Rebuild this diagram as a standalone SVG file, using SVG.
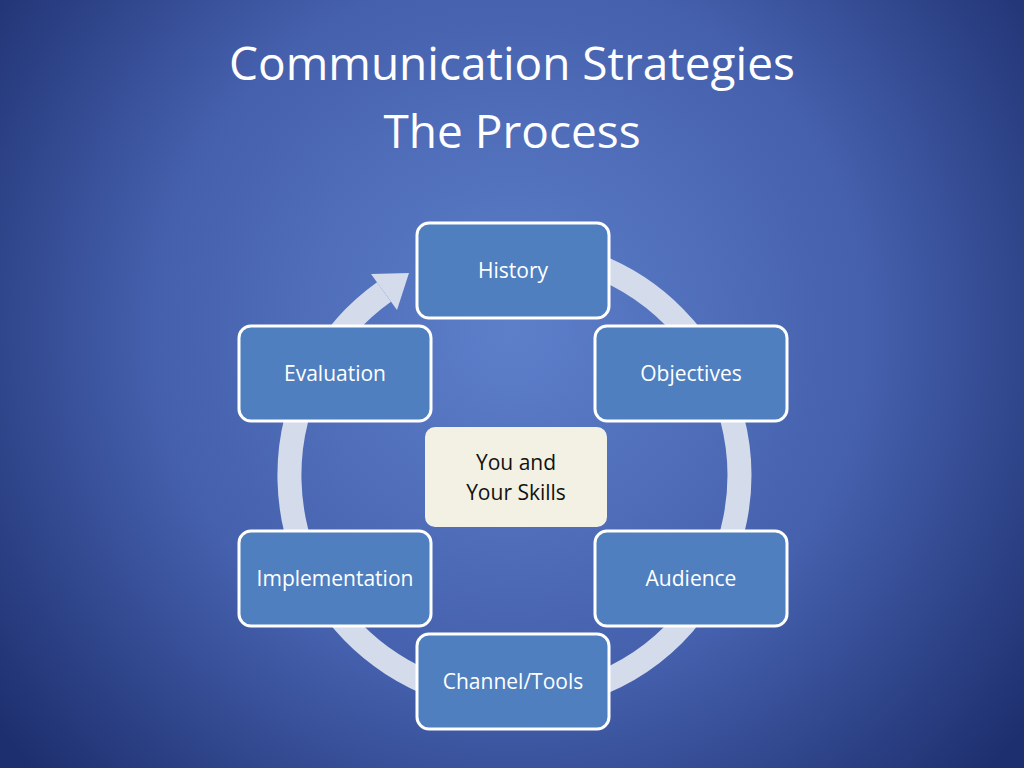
<svg xmlns="http://www.w3.org/2000/svg" width="1024" height="768" viewBox="0 0 1024 768">
<defs>
<radialGradient id="bg" cx="512" cy="330" r="650" gradientUnits="userSpaceOnUse">
<stop offset="0" stop-color="#5d7fca"/><stop offset="0.55" stop-color="#4560ad"/><stop offset="1" stop-color="#1d2f6e"/>
</radialGradient>
<style>
.box{fill:#4f7fbf;stroke:#fff;stroke-width:3}
.t{font-family:"Open Sans","Liberation Sans",sans-serif;font-size:21px;fill:#fff;text-anchor:middle}
.h{font-family:"Open Sans","Liberation Sans",sans-serif;font-size:46px;fill:#fff;text-anchor:middle}
</style>
</defs>
<rect width="1024" height="768" fill="url(#bg)"/>
<text class="h" x="512" y="80">Communication Strategies</text>
<text class="h" x="512" y="148">The Process</text>
<g id="connectors">
<path d="M384 292 A225 225 0 1 0 474 254" fill="none" stroke="#d4dbeb" stroke-width="24"/>
<polygon points="371,274 397,310 409,273" fill="#d4dbeb"/>
</g>
<g id="history"><rect class="box" x="417" y="223" width="192" height="95" rx="12"/><text class="t" x="513" y="278">History</text></g>
<g id="objectives"><rect class="box" x="595" y="326" width="192" height="95" rx="12"/><text class="t" x="691" y="381">Objectives</text></g>
<g id="evaluation"><rect class="box" x="239" y="326" width="192" height="95" rx="12"/><text class="t" x="335" y="381">Evaluation</text></g>
<g id="implementation"><rect class="box" x="239" y="531" width="192" height="95" rx="12"/><text class="t" x="335" y="586">Implementation</text></g>
<g id="audience"><rect class="box" x="595" y="531" width="192" height="95" rx="12"/><text class="t" x="691" y="586">Audience</text></g>
<g id="channel"><rect class="box" x="417" y="634" width="192" height="95" rx="12"/><text class="t" x="513" y="689">Channel/Tools</text></g>
<g id="center"><rect x="425" y="427" width="182" height="100" rx="10" fill="#f3f1e3"/>
<text class="t" x="516" y="470" style="fill:#111">You and</text><text class="t" x="516" y="500" style="fill:#111">Your Skills</text></g>
</svg>
